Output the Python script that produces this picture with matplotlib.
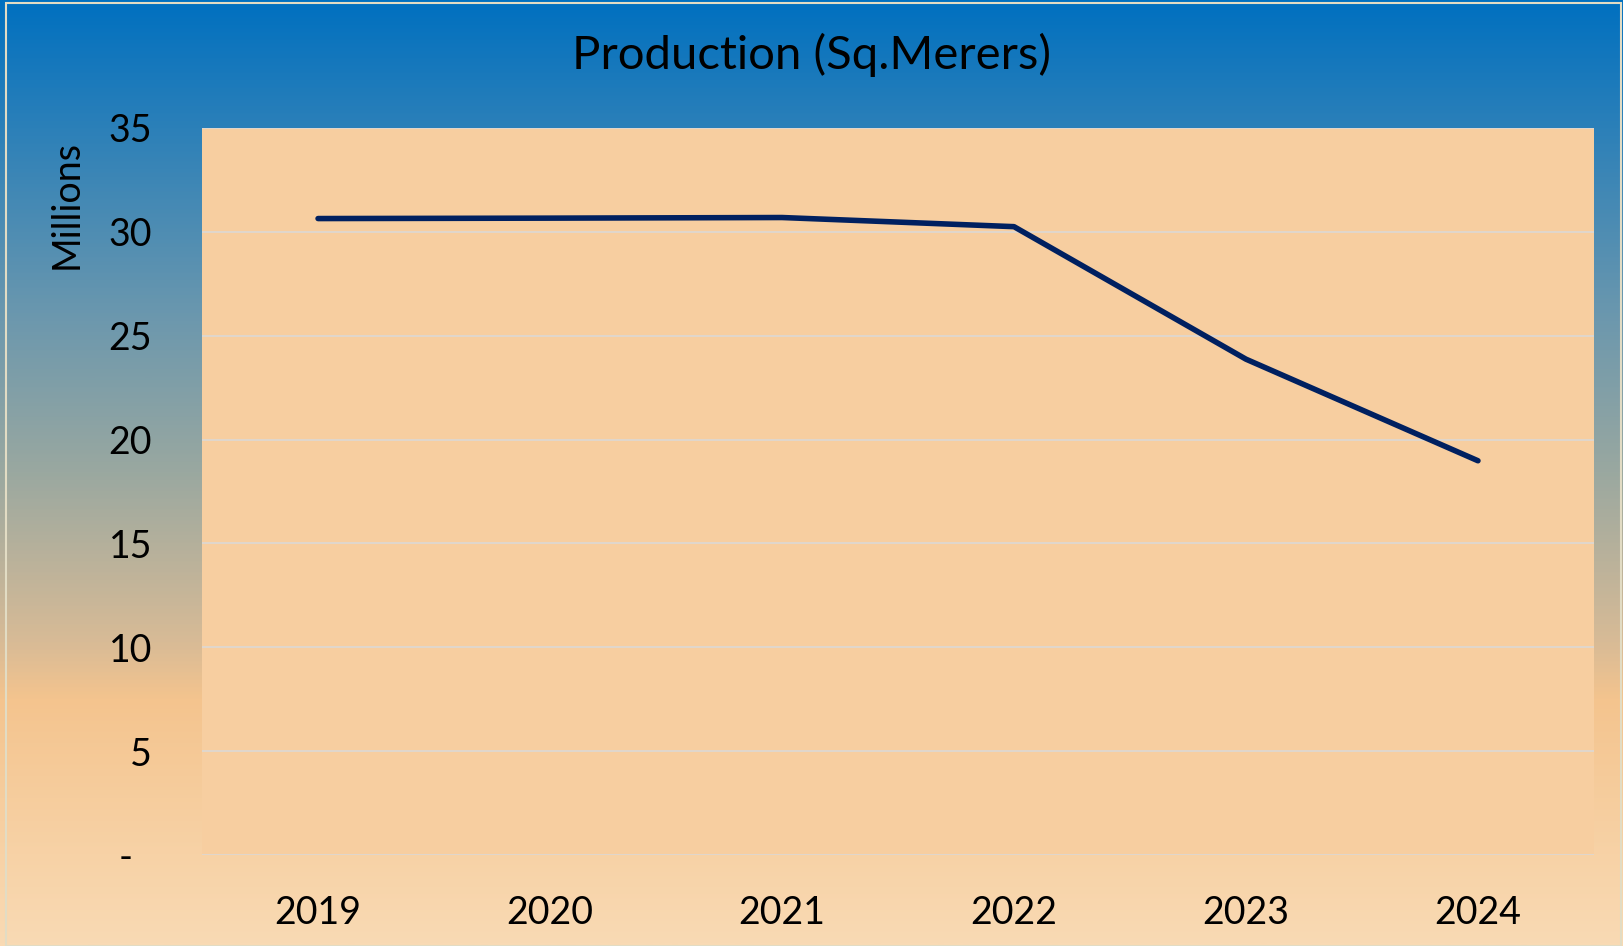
import matplotlib
matplotlib.use('Agg')
import matplotlib.pyplot as plt
import numpy as np
from matplotlib.colors import LinearSegmentedColormap
from matplotlib.patches import Rectangle

years = ['2019', '2020', '2021', '2022', '2023', '2024']
production = [30.64, 30.66, 30.69, 30.25, 23.87, 18.98]  # millions of sq. meters
y_ticks = [0, 5, 10, 15, 20, 25, 30, 35]
y_labels = ['-  ', '5', '10', '15', '20', '25', '30', '35']

plt.rcParams['font.family'] = ['Lato', 'DejaVu Sans']

fig = plt.figure(figsize=(16.23, 9.46), dpi=100)

# background gradient, blue at top to peach at bottom
bg = fig.add_axes([0, 0, 1, 1], zorder=0)
grad_cmap = LinearSegmentedColormap.from_list('bg', [
    (0.0, '#0070C0'),
    (0.33, '#6A97AE'),
    (0.50, '#9AA8A0'),
    (0.68, '#D8BB96'),
    (0.74, '#F4C48E'),
    (1.0, '#F9DAB4')])
# row 0 of the image is drawn at the top
bg.imshow(np.linspace(0, 1, 512).reshape(-1, 1), aspect='auto', cmap=grad_cmap,
          extent=[0, 1, 0, 1])
bg.axis('off')
fig.patches.append(Rectangle((0.0035, 0.0), 0.9955, 0.997, transform=fig.transFigure,
                             fill=False, edgecolor='#E2DCC4', linewidth=1.5))

ax = fig.add_axes([0.1245, 0.0962, 0.8576, 0.7685], zorder=1)
ax.set_facecolor('#F7CEA0')
x = np.arange(len(years))
ax.plot(x, production, color='#002060', linewidth=4, solid_capstyle='round',
        solid_joinstyle='round', zorder=3)

ax.set_xlim(-0.5, len(years) - 0.5)
ax.set_ylim(0, 35)
ax.set_xticks(x)
ax.set_xticklabels(years)
ax.set_yticks(y_ticks)
ax.set_yticklabels(y_labels)
ax.tick_params(axis='both', length=0, labelsize=27)
ax.tick_params(axis='y', pad=36)
ax.tick_params(axis='x', pad=29)
ax.grid(axis='y', color='#D9D9D9', linewidth=1.1)
ax.set_axisbelow(True)
for s in ax.spines.values():
    s.set_visible(False)

fig.text(0.041, 0.784, 'Millions', rotation=90, ha='center', va='center', fontsize=27)
fig.text(0.5, 0.942, 'Production (Sq.Merers)', ha='center', va='center', fontsize=34)

fig.savefig('out.png', dpi=100)
